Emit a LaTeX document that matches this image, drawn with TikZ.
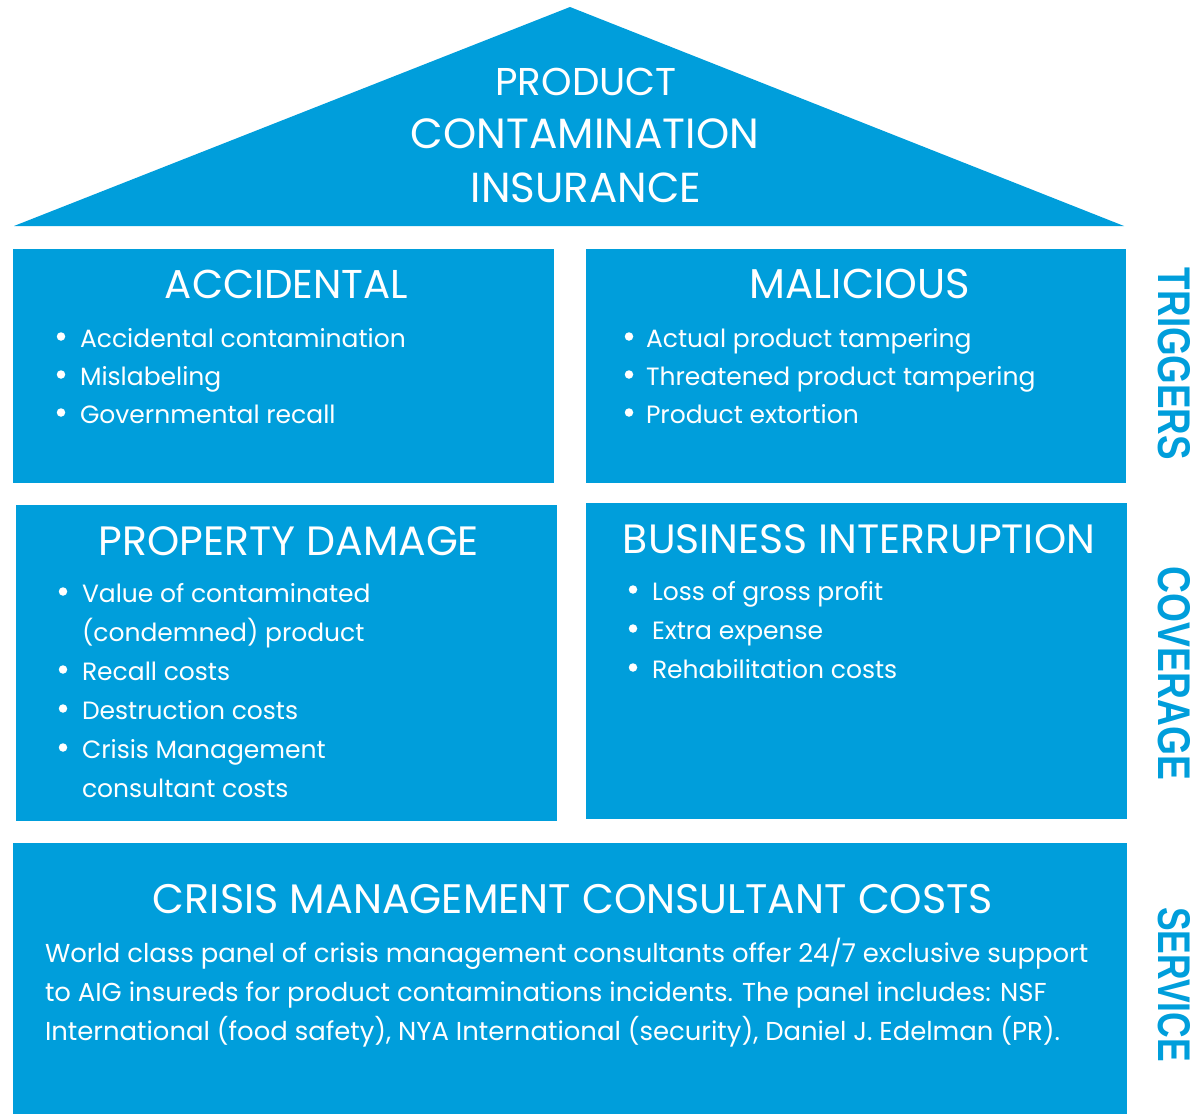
\documentclass[tikz,border=0pt]{standalone}
\usepackage{fontspec}
\usepackage{graphicx}
\setmainfont{Poppins}
\newfontfamily\labelfont{Liberation Sans}
\definecolor{aigblue}{RGB}{0,158,219}

% one bulleted line: name, bullet centre x, text x, baseline y, text
\newcommand\bline[5]{%
  \node[dot] (#1-dot) at (#2,#4-10.5) {};
  \node[body] (#1) at (#3,#4) {#5};}

\begin{document}
\begin{tikzpicture}[x=1pt,y=-1pt,
  panel/.style={fill=aigblue,draw=none,rectangle,anchor=north west,inner sep=0pt,outer sep=0pt},
  head/.style={inner sep=0pt,outer sep=0pt,text=white,anchor=base},
  body/.style={inner sep=0pt,outer sep=0pt,text=white,anchor=base west,font=\fontsize{25}{30}\selectfont},
  para/.style={body,font=\fontsize{25.9}{30}\selectfont},
  dot/.style={circle,fill=white,inner sep=0pt,minimum size=8.5pt},
  side/.style={inner sep=0pt,outer sep=0pt,text=aigblue,rotate=-90,font=\labelfont\bfseries}]

\useasboundingbox (0,0) rectangle (1202,1114);

% roof
\fill[aigblue] (14,226) -- (570,7) -- (1124,226) -- cycle;
\node[head] (t1) at (586,95)  {\resizebox{181pt}{!}{PRODUCT}};
\node[head] (t2) at (585,148) {\resizebox{348pt}{!}{CONTAMINATION}};
\node[head] (t3) at (586,202) {\resizebox{230pt}{!}{INSURANCE}};

% panels
\node[panel,minimum width=541pt,minimum height=234pt]  (acc) at (13,249)  {};
\node[panel,minimum width=540pt,minimum height=234pt]  (mal) at (586,249) {};
\node[panel,minimum width=541pt,minimum height=316pt]  (pd)  at (16,505)  {};
\node[panel,minimum width=541pt,minimum height=316pt]  (bi)  at (586,503) {};
\node[panel,minimum width=1114pt,minimum height=271pt] (cm)  at (13,843)  {};

% triggers
\node[head] (acch) at (286.5,298) {\resizebox{243pt}{!}{ACCIDENTAL}};
\bline{a1}{61}{80}{347}{Accidental contamination}
\bline{a2}{61}{80}{385}{Mislabeling}
\bline{a3}{61}{80}{423}{Governmental recall}

\node[head] (malh) at (860,298) {\resizebox{220pt}{!}{MALICIOUS}};
\bline{m1}{629}{646}{347}{Actual product tampering}
\bline{m2}{629}{646}{385}{Threatened product tampering}
\bline{m3}{629}{646}{423}{Product extortion}

% coverage
\node[head] (pdh) at (289,555) {\resizebox{380pt}{!}{PROPERTY DAMAGE}};
\bline{p1}{63}{82}{602}{Value of contaminated}
\node[body] (p1b) at (82,641) {(condemned) product};
\bline{p2}{63}{82}{680}{Recall costs}
\bline{p3}{63}{82}{719}{Destruction costs}
\bline{p4}{63}{82}{758}{Crisis Management}
\node[body] (p4b) at (82,797) {consultant costs};

\node[head] (bih) at (859,553) {\resizebox{472pt}{!}{BUSINESS INTERRUPTION}};
\bline{b1}{633}{652}{600}{Loss of gross profit}
\bline{b2}{633}{652}{639}{Extra expense}
\bline{b3}{633}{652}{678}{Rehabilitation costs}

% service
\node[head] (cmh) at (573,913) {\resizebox{840pt}{!}{CRISIS MANAGEMENT CONSULTANT COSTS}};
\node[para] (c1) at (45,962)  {World class panel of crisis management consultants offer 24/7 exclusive support};
\node[para] (c2) at (45,1001) {to AIG insureds for product contaminations incidents. The panel includes: NSF};
\node[para] (c3) at (45,1040) {International (food safety), NYA International (security), Daniel J. Edelman (PR).};

% side labels
\node[side] (trig) at (1174,364)   {\resizebox{192pt}{32pt}{TRIGGERS}};
\node[side] (cov)  at (1174,673.5) {\resizebox{213pt}{32pt}{COVERAGE}};
\node[side] (serv) at (1174,984.5) {\resizebox{155pt}{32pt}{SERVICE}};
\end{tikzpicture}
\end{document}
